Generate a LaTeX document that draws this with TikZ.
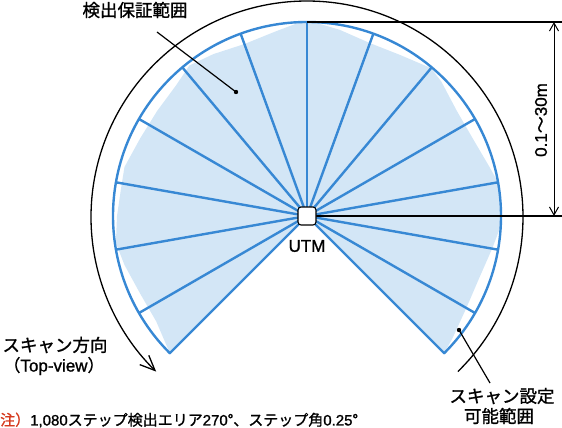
\documentclass[tikz,border=0pt]{standalone}
\usepackage{fontspec}
\setmainfont{Liberation Sans}[FakeBold=1.2]
\newfontfamily\jp{Noto Sans CJK JP}[FakeBold=1.2]
\usetikzlibrary{arrows.meta,calc}
\definecolor{scanblue}{RGB}{55,136,212}
\definecolor{fillblue}{RGB}{211,230,246}
\definecolor{notered}{RGB}{214,58,30}
\tikzset{
  spoke/.style={draw=scanblue, line width=2.4pt},
  blk/.style={draw=black, line width=1.3pt},
  lbl/.style={inner sep=0pt, font=\jp\fontsize{17.5}{21}\selectfont},
}
\begin{document}
\begin{tikzpicture}[x=1pt,y=1pt]
\useasboundingbox (0,0) rectangle (562,428);
\coordinate (C) at (307,212);
\coordinate (Cb) at (307,211);
% detection area fill
\fill[fillblue, shift={(C)}] (0,0) -- (225:194pt) -- (215:184pt) -- (205:184pt) -- (195:189pt) -- (188:193pt)
  -- (180:190pt) -- (172:188pt) -- (165:189pt) -- (155:184pt) -- (145:183pt) -- (135:185pt) -- (128:191pt)
  -- (120:187pt) -- (110:183pt) -- (100:187pt) -- (92:194pt) -- (88:194pt) -- (80:189pt) -- (70:184pt)
  -- (60:186pt) -- (50:193pt) -- (45:190pt) -- (35:183pt) -- (25:183pt) -- (15:189pt) -- (10:194pt)
  -- (-3:194pt) -- (-10:188pt) -- (-20:183pt) -- (-30:184pt) -- (-40:190pt) -- (-45:194pt) -- cycle;
% spokes
\foreach \a in {-30,-10,...,210} {\draw[spoke] (C) -- ($(C)+(\a:194pt)$);}
\draw[spoke, line join=round] (C) -- ($(C)+(-45:194pt)$) arc[start angle=-45, end angle=225, radius=194pt] -- cycle;
% scan range arc with arrow
\coordinate (arcstart) at ($(Cb)+(-45.7:216pt)$);
\draw[blk, -{Straight Barb[length=15pt,width=13pt]}] (arcstart) arc[start angle=-45.7, end angle=225.7, radius=216pt];
% dimension
\coordinate (topR) at (562,406);
\coordinate (midR) at (562,212);
\coordinate (topL) at ($(C)+(90:194pt)$);
\coordinate (da) at (554,406);
\coordinate (db) at (554,212);
\draw[blk, line width=1.1pt] (topL) -- (topR);
\draw[blk, line width=1.1pt] (C) -- (midR);
\draw[blk, line width=1pt, {Straight Barb[length=8pt,width=9pt]}-{Straight Barb[length=8pt,width=9pt]}] (da) -- (db);
\node[inner sep=0pt, rotate=90, font=\fontsize{17}{20}\selectfont] (dimtxt) at (541,308) {0.1{\jp ～}30m};
% UTM
\node[draw=black, fill=white, line width=1.1pt, rounded corners=3pt, minimum size=18pt, inner sep=0pt] (utm) at (C) {};
\node[inner sep=0pt, font=\fontsize{17}{20}\selectfont] (utmtxt) at (307,182) {UTM};
% labels and leaders
\node[lbl] (guar) at (135,418) {検出保証範囲};
\coordinate (g1) at (157,396);
\coordinate (g2) at (236,336);
\draw[blk, line width=1.2pt] (g1) -- (g2);
\fill (g2) circle (2.2pt);
\node[lbl] (scandir) at (55,83) {スキャン方向};
\node[inner sep=0pt, font=\fontsize{17}{20}\selectfont] (topview) at (54,62) {{\jp （}Top-view{\jp ）}};
\node[lbl] (setr1) at (502,32) {スキャン設定};
\node[lbl] (setr2) at (499,12) {可能範囲};
\coordinate (s1) at (459,98);
\coordinate (s2) at (490,45);
\draw[blk, line width=1.2pt] (s1) -- (s2);
\fill (s1) circle (2.2pt);
% note
\node[anchor=west, inner sep=0pt, font=\fontsize{15}{18}\selectfont] (note) at (0,8)
  {{\jp\color{notered}注）}1,080{\jp ステップ検出エリア}270{\jp °、ステップ角}0.25{\jp °}};
\end{tikzpicture}
\end{document}
